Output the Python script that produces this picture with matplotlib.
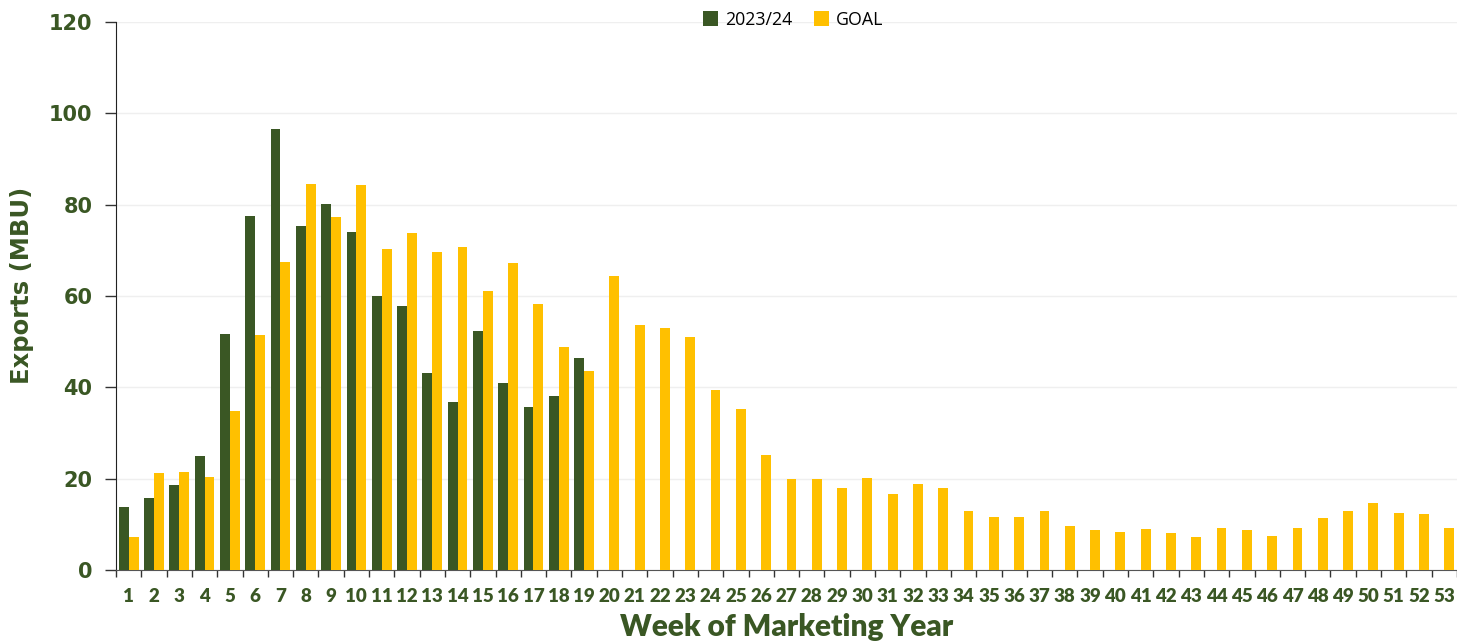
import numpy as np
import matplotlib.pyplot as plt
from matplotlib.ticker import FixedLocator

weeks = list(range(1, 54))
exports_2324 = [13.7, 15.8, 18.6, 25.0, 51.7, 77.5, 96.6, 75.3, 80.1, 74.0,
                60.0, 57.8, 43.1, 36.8, 52.3, 41.0, 35.7, 38.1, 46.4]
goal = [7.3, 21.2, 21.5, 20.3, 34.8, 51.5, 67.4, 84.6, 77.3, 84.4,
        70.3, 73.8, 69.7, 70.7, 61.1, 67.3, 58.3, 48.8, 43.6, 64.3,
        53.6, 53.0, 51.0, 39.4, 35.2, 25.2, 19.9, 19.9, 17.9, 20.1,
        16.6, 18.8, 18.0, 12.9, 11.7, 11.7, 12.9, 9.6, 8.8, 8.3,
        8.9, 8.0, 7.2, 9.3, 8.8, 7.5, 9.3, 11.3, 12.9, 14.7,
        12.5, 12.2, 9.3]

green = "#3A5724"
yellow = "#FFC000"
label_col = "#3A5724"

fig = plt.figure(figsize=(14.57, 6.44), dpi=100)
ax = fig.add_axes([116 / 1457, 1 - 570 / 644, 1 - 116 / 1457, 548 / 644])

x = np.arange(len(weeks))
w = 0.39
ax.bar(x[:len(exports_2324)] - w / 2, exports_2324, width=w, color=green, label="2023/24", zorder=3)
ax.bar(x + w / 2, goal, width=w, color=yellow, label="GOAL", zorder=3)

ax.set_xlim(-0.5, len(weeks) - 0.5)
ax.set_ylim(0, 120)
ax.set_yticks(range(0, 121, 20))
ax.yaxis.grid(True, color="#EFEFEF", linewidth=1, zorder=0)

ax.set_xticks(x)
ax.set_xticklabels([str(wk) for wk in weeks])
ax.xaxis.set_minor_locator(FixedLocator(np.arange(-0.5, len(weeks), 1)))
ax.tick_params(axis="x", which="major", length=0, pad=13)
ax.tick_params(axis="x", which="minor", length=5, width=1, color="#333333", direction="out")
ax.tick_params(axis="y", length=8, width=1, color="#333333", pad=9)

for lab in ax.get_xticklabels():
    lab.set_fontfamily("Lato")
    lab.set_fontweight("heavy")
    lab.set_fontsize(13.5)
    lab.set_color(label_col)
for lab in ax.get_yticklabels():
    lab.set_fontfamily("DejaVu Sans")
    lab.set_fontweight("bold")
    lab.set_fontsize(15)
    lab.set_color(label_col)

for side in ["top", "right"]:
    ax.spines[side].set_visible(False)
ax.spines["left"].set_color("#222222")
ax.spines["bottom"].set_color("#555555")

ax.set_ylabel("Exports (MBU)", fontsize=17.5, fontweight="bold", color=label_col,
              family="DejaVu Sans", va="center")
ax.yaxis.set_label_coords(-0.070, 0.52)
ax.set_xlabel("Week of Marketing Year", fontsize=21.5, fontweight="heavy", color=label_col,
              family="Lato", labelpad=6)

ax.legend(loc="upper center", bbox_to_anchor=(0.505, 1.05), ncol=2, frameon=False,
          handlelength=0.85, handleheight=0.85, handletextpad=0.4,
          columnspacing=1.2, prop={"family": "Open Sans", "size": 12.8})

fig.savefig("out.png", dpi=100)
